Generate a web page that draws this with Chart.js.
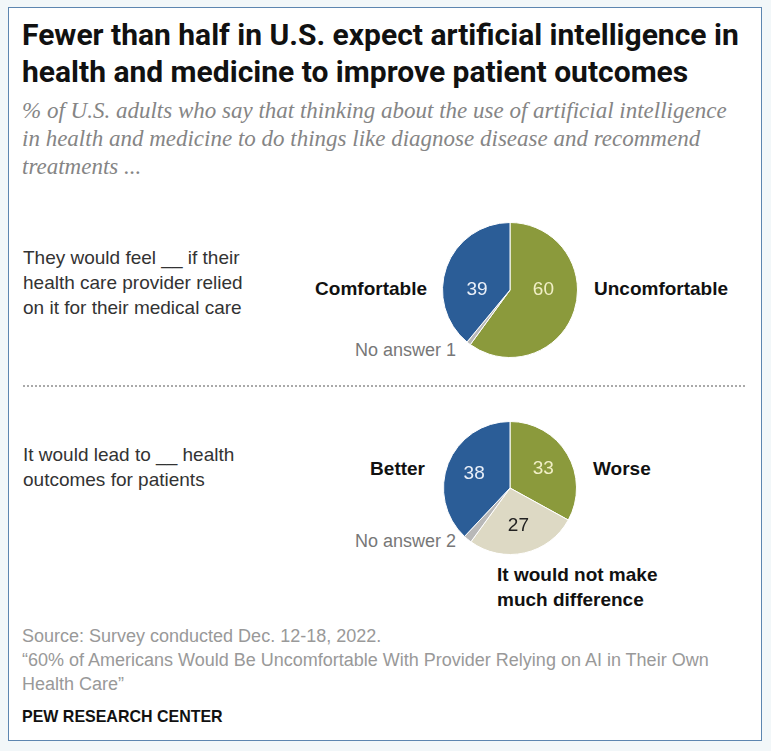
<!DOCTYPE html>
<html>
<head>
<meta charset="utf-8">
<script src="https://cdn.jsdelivr.net/npm/chart.js@4.4.0/dist/chart.umd.min.js"></script>
<style>
  html, body { margin: 0; padding: 0; }
  body { width: 771px; height: 751px; background: #f2f7f9; position: relative; overflow: hidden; font-family: "Liberation Sans", Arial, sans-serif; }
  #frame { position: absolute; left: 8px; top: 7px; width: 752px; height: 732px; background: #fff; border: 1px solid #5d86b0; }
  .t { position: absolute; white-space: nowrap; }
  #title { left: 22px; top: 16px; font-family: "Liberation Sans Narrow", "Roboto", sans-serif; font-weight: bold; font-size: 30px; line-height: 37px; color: #111; }
  #sub { left: 22px; top: 97px; font-family: "Liberation Serif", serif; font-style: italic; font-size: 23px; line-height: 28px; color: #858585; }
  .q { left: 23px; font-size: 19px; line-height: 25px; color: #333; }
  .lab { font-size: 19px; font-weight: bold; color: #111; line-height: 25px; }
  .na { font-size: 18px; color: #777; }
  #sep { position: absolute; left: 23px; top: 385px; width: 722px; border-top: 2px dotted #aaa; }
  .foot { left: 22px; font-family: "Liberation Sans Narrow", sans-serif; font-size: 18px; color: #999; line-height: 24px; }
  #pew { left: 22px; top: 707px; font-family: "Liberation Sans Narrow", sans-serif; font-weight: bold; font-size: 17px; color: #111; transform: scaleX(0.94); transform-origin: left center; }
  canvas { position: absolute; }
</style>
</head>
<body>
<div id="frame"></div>
<div class="t" id="title">Fewer than half in U.S. expect artificial intelligence in<br>health and medicine to improve patient outcomes</div>
<div class="t" id="sub">% of U.S. adults who say that thinking about the use of artificial intelligence<br>in health and medicine to do things like diagnose disease and recommend<br>treatments ...</div>

<div class="t q" style="top:245px">They would feel __ if their<br>health care provider relied<br>on it for their medical care</div>
<div class="t lab" id="l1a" style="right:344px; top:276px"></div>
<div class="t lab" id="l1b" style="left:594px; top:276px"></div>
<div class="t na" id="n1" style="left:355px; top:340px"></div>

<div id="sep"></div>

<div class="t q" style="top:442px">It would lead to __ health<br>outcomes for patients</div>
<div class="t lab" id="l2a" style="right:346px; top:456px"></div>
<div class="t lab" id="l2b" style="left:593px; top:456px"></div>
<div class="t na" id="n2" style="left:355px; top:531px"></div>
<div class="t lab" id="l2c" style="left:497px; top:562px"></div>

<div class="t foot" style="top:624px">Source: Survey conducted Dec. 12-18, 2022.<br>“60% of Americans Would Be Uncomfortable With Provider Relying on AI in Their Own<br>Health Care”</div>
<div class="t" id="pew">PEW RESEARCH CENTER</div>

<canvas id="pie1"></canvas>
<canvas id="pie2"></canvas>

<script>
// Question 1: comfort with provider relying on AI (clockwise from 12 o'clock)
const comfortLabels = ['Uncomfortable', 'No answer', 'Comfortable'];
const comfortValues = [60, 1, 39];

// Question 2: expected health outcomes (clockwise from 12 o'clock)
const outcomeLabels = ['Worse', 'It would not make much difference', 'No answer', 'Better'];
const outcomeValues = [33, 27, 2, 38];

const BLUE = '#2b5d97', GREEN = '#8b9a3c', BEIGE = '#ddd9c4', GREY = '#b8b8b8';

document.getElementById('l1a').textContent = comfortLabels[2];
document.getElementById('l1b').textContent = comfortLabels[0];
document.getElementById('n1').textContent = comfortLabels[1] + ' ' + comfortValues[1];
document.getElementById('l2a').textContent = outcomeLabels[3];
document.getElementById('l2b').textContent = outcomeLabels[0];
document.getElementById('n2').textContent = outcomeLabels[2] + ' ' + outcomeValues[2];
document.getElementById('l2c').innerHTML = 'It would not make<br>much difference';

// numbers drawn inside the slices, skipping the "no answer" sliver
const sliceNumbers = {
    id: 'sliceNumbers',
    afterDatasetsDraw(chart, args, opts) {
        const ctx = chart.ctx;
        const meta = chart.getDatasetMeta(0);
        ctx.save();
        ctx.font = '19px "Liberation Sans", Arial, sans-serif';
        ctx.textAlign = 'center';
        ctx.textBaseline = 'middle';
        meta.data.forEach((arc, i) => {
            if (opts.skip.includes(i)) return;
            const mid = (arc.startAngle + arc.endAngle) / 2;
            const r = arc.outerRadius * opts.radius;
            const x = arc.x + Math.cos(mid) * r;
            let y = arc.y + Math.sin(mid) * r;
            if (opts.centerY) y = arc.y;
            ctx.fillStyle = opts.colors[i];
            ctx.fillText(chart.data.datasets[0].data[i], x, y);
        });
        ctx.restore();
    }
};

function createPie(id, box, labels, values, colors, numberOpts) {
    const el = document.getElementById(id);
    el.width = box.size;
    el.height = box.size;
    el.style.left = box.x + 'px';
    el.style.top = box.y + 'px';
    el.style.width = box.size + 'px';
    el.style.height = box.size + 'px';
    return new Chart(el.getContext('2d'), {
        type: 'pie',
        data: {
            labels: labels,
            datasets: [{
                data: values,
                backgroundColor: colors,
                borderColor: '#ffffff',
                borderWidth: 1
            }]
        },
        options: {
            responsive: false,
            animation: false,
            events: [],
            layout: { padding: 0 },
            plugins: {
                legend: { display: false },
                tooltip: { enabled: false },
                sliceNumbers: numberOpts
            }
        },
        plugins: [sliceNumbers]
    });
}

createPie('pie1', { x: 442, y: 222, size: 136 }, comfortLabels, comfortValues,
    [GREEN, GREY, BLUE],
    { skip: [1], centerY: true, radius: 0.52, colors: ['#f1efc6', '#000', '#e9eff8'] });

createPie('pie2', { x: 443, y: 421, size: 134 }, outcomeLabels, outcomeValues,
    [GREEN, BEIGE, GREY, BLUE],
    { skip: [2], centerY: false, radius: 0.58, colors: ['#f1efc6', '#222', '#000', '#e9eff8'] });
</script>
</body>
</html>
